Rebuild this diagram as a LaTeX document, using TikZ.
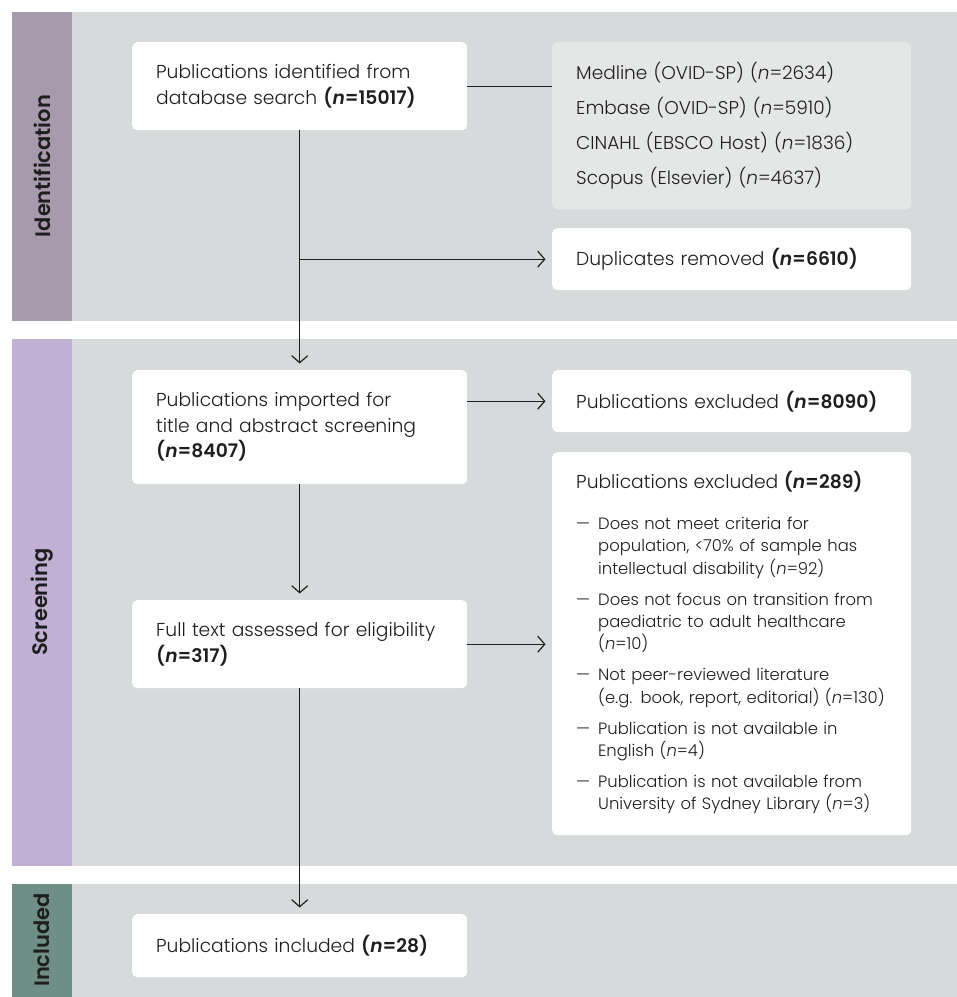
\documentclass[tikz,border=0pt]{standalone}
\usepackage{fontspec}
\setmainfont{Poppins}[UprightFont={* Light},ItalicFont={* Light Italic},BoldFont={* SemiBold},BoldItalicFont={* SemiBold Italic}]
\usetikzlibrary{arrows.meta,calc}
\definecolor{bandgray}{HTML}{D6DADB}
\definecolor{dbgray}{HTML}{E4E7E5}
\definecolor{idcol}{HTML}{A89AAD}
\definecolor{sccol}{HTML}{C1B0D4}
\definecolor{incol}{HTML}{6F8F86}
\definecolor{ink}{HTML}{1E1E1E}
\newcommand{\nb}[1]{\textbf{(\textit{n}=#1)}}
\newcommand{\nreg}[1]{(\textit{n}=#1)}
\tikzset{
  box/.style={fill=white, rounded corners=5pt, anchor=north west, inner xsep=24pt, inner ysep=0pt,
    align=left, text=ink, font=\fontsize{18.7}{25.5}\selectfont},
  lbox/.style={box, minimum width=335pt, text width=287pt},
  rbox/.style={box, minimum width=359pt, text width=311pt},
  lab/.style={rotate=90, font=\bfseries\fontsize{21}{21}\selectfont, text=ink},
  conn/.style={draw=ink, line width=1.2pt},
  arr/.style={conn, -{Straight Barb[length=7pt,width=16pt]}, shorten >=6.5pt},
}
\begin{document}
\begin{tikzpicture}[x=1pt,y=-1pt]
\useasboundingbox (0,0) rectangle (957,997);
% bands
\fill[bandgray] (72,12) rectangle (957,321);
\fill[idcol] (12,12) rectangle (72,321);
\fill[bandgray] (72,339) rectangle (957,866);
\fill[sccol] (12,339) rectangle (72,866);
\fill[bandgray] (72,884) rectangle (957,997);
\fill[incol] (12,884) rectangle (72,997);
\node[lab] (lid) at (42,166) {Identification};
\node[lab] (lsc) at (42,602) {Screening};
\node[lab] (lin) at (42,940) {Included};
% boxes
\node[lbox, minimum height=88pt] (ident) at (132,42) {Publications identified from\\database search \nb{15017}};
\node[rbox, fill=dbgray, minimum height=167pt, font=\fontsize{18.5}{34.7}\selectfont] (db) at (552,42)
  {Medline (OVID-SP) \nreg{2634}\\Embase (OVID-SP) \nreg{5910}\\CINAHL (EBSCO Host) \nreg{1836}\\Scopus (Elsevier) \nreg{4637}};
\node[rbox, minimum height=62pt] (dup) at (552,228) {Duplicates removed \nb{6610}};
\node[lbox, minimum height=114pt] (imp) at (132,370) {Publications imported for\\title and abstract screening\\\nb{8407}};
\node[rbox, minimum height=62pt] (ex1) at (552,370) {Publications excluded \nb{8090}};
\node[lbox, minimum height=88pt] (full) at (132,600) {Full text assessed for eligibility\\\nb{317}};
\node[rbox, minimum height=383pt, font=\fontsize{16.4}{22.4}\selectfont] (ex2) at (552,452) {%
\begin{tabular}{@{}p{22pt}@{}l@{}}
\multicolumn{2}{@{}l@{}}{\fontsize{18.7}{25}\selectfont Publications excluded \nb{289}}\\[19pt]
— & Does not meet criteria for\\
  & population, <70\% of sample has\\
  & intellectual disability \nreg{92}\\[8.5pt]
— & Does not focus on transition from\\
  & paediatric to adult healthcare\\
  & \nreg{10}\\[8.5pt]
— & Not peer-reviewed literature\\
  & (e.g. book, report, editorial) \nreg{130}\\[8.5pt]
— & Publication is not available in\\
  & English \nreg{4}\\[8.5pt]
— & Publication is not available from\\
  & University of Sydney Library \nreg{3}
\end{tabular}};
\node[lbox, minimum height=63pt] (inc) at (132,914) {Publications included \nb{28}};
% connectors
\coordinate (j1) at (ident.south |- dup.west);
\draw[conn] (ident.east) -- (ident.east -| db.west);
\draw[arr] (ident.south) -- (imp.north);
\draw[arr] (j1) -- (dup.west);
\draw[arr] (ex1.west -| imp.east) -- (ex1.west);
\draw[arr] (imp.south) -- (full.north);
\draw[arr] (full.east) -- (full.east -| ex2.west);
\draw[arr] (full.south) -- (inc.north);
\end{tikzpicture}
\end{document}
